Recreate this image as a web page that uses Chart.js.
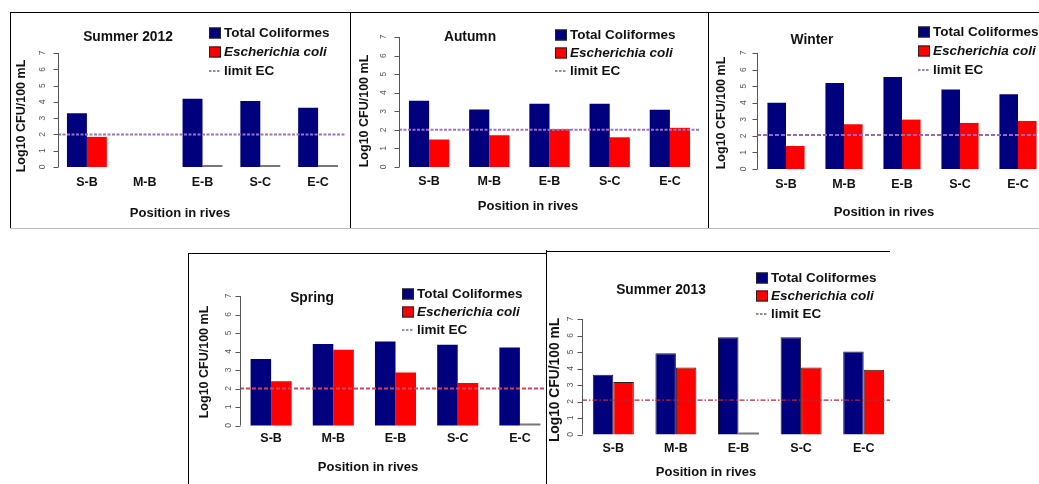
<!DOCTYPE html>
<html>
<head>
<meta charset="utf-8">
<script src="https://cdn.jsdelivr.net/npm/chart.js@4.4.0/dist/chart.umd.min.js"></script>
<style>
  body { margin: 0; width: 1039px; height: 484px; overflow: hidden; background: #fff; position: relative; }
  canvas { position: absolute; }
  .ln { position: absolute; background: #000; }
</style>
</head>
<body>
<div class="ln" style="left:10px;top:12px;width:1029px;height:1px"></div>
<div class="ln" style="left:10px;top:228px;width:1029px;height:1px;background:#bbb"></div>
<div class="ln" style="left:10px;top:12px;width:1px;height:216px"></div>
<div class="ln" style="left:350px;top:12px;width:1px;height:216px"></div>
<div class="ln" style="left:708px;top:12px;width:1px;height:216px"></div>
<div class="ln" style="left:188px;top:253px;width:358px;height:1px"></div>
<div class="ln" style="left:188px;top:253px;width:1px;height:231px"></div>
<div class="ln" style="left:546px;top:250px;width:1px;height:234px"></div>
<div class="ln" style="left:546px;top:251px;width:344px;height:1px"></div>

<canvas id="p1"></canvas>
<canvas id="p2"></canvas>
<canvas id="p3"></canvas>
<canvas id="p4"></canvas>
<canvas id="p5"></canvas>

<script>
// data
const positions = ['S-B', 'M-B', 'E-B', 'S-C', 'E-C'];
const seasons = ['Summer 2012', 'Autumn', 'Winter', 'Spring', 'Summer 2013'];
const yTicks = [0, 1, 2, 3, 4, 5, 6, 7];

const tcSummer2012 = [3.3, null, 4.19, 4.05, 3.64];
const ecSummer2012 = [1.85, null, 0, 0, 0];
const tcAutumn = [3.57, 3.1, 3.4, 3.4, 3.08];
const ecAutumn = [1.48, 1.71, 2.04, 1.6, 2.11];
const tcWinter = [4.0, 5.19, 5.55, 4.79, 4.51];
const ecWinter = [1.39, 2.7, 2.98, 2.78, 2.9];
const tcSpring = [3.6, 4.4, 4.54, 4.36, 4.22];
const ecSpring = [2.39, 4.09, 2.87, 2.3, 0];
const tcSummer2013 = [3.62, 4.93, 5.9, 5.9, 5.03];
const ecSummer2013 = [3.18, 4.06, 0, 4.06, 3.92];
const limitEC = [2, 2, 2.05, 2, 2.08];

const FONT = '"Liberation Sans", Arial, sans-serif';
const NAVY = '#00007f';
const RED = '#ff0000';

// layout per panel (global page coordinates)
const panels = [
  { id: 'p1', title: seasons[0], tc: tcSummer2012, ec: ecSummer2012, limit: limitEC[0],
    canvas: [10, 12, 340, 216], area: [58, 53, 347, 167], titleXY: [128, 37],
    legendXY: [209, 33], legendGap: 19, tickDx: -15, yTitleXY: [22, 116], yTitleSize: 12.5,
    xTitleXY: [180, 213], catPad: 8.5, limitTo: 345, limitColor: '#a070c0', limitDash: [3, 1.5],
    limitWidth: 2, catPct: 0.69, bw: 0, legendLine: '#7a5a9a' },
  { id: 'p2', title: seasons[1], tc: tcAutumn, ec: ecAutumn, limit: limitEC[1],
    canvas: [350, 12, 358, 216], area: [399, 37, 700, 167], titleXY: [470, 37],
    legendXY: [555, 35], legendGap: 18, tickDx: -15, yTitleXY: [365, 111], yTitleSize: 12.5,
    xTitleXY: [528, 206], catPad: 7.5, limitTo: 700, limitColor: '#a070c0', limitDash: [3, 1.5],
    limitWidth: 2, catPct: 0.67, bw: 0, legendLine: '#7a5a9a' },
  { id: 'p3', title: seasons[2], tc: tcWinter, ec: ecWinter, limit: limitEC[2],
    canvas: [708, 12, 342, 216], area: [757, 53, 1047, 169], titleXY: [812, 40],
    legendXY: [918, 32], legendGap: 19, tickDx: -13, yTitleXY: [722, 113], yTitleSize: 12.5,
    xTitleXY: [884, 212], catPad: 8.5, limitTo: 1039, limitColor: '#9a68b8', limitDash: [4, 2],
    limitWidth: 2, catPct: 0.64, bw: 0, legendLine: '#7a5a9a' },
  { id: 'p4', title: seasons[3], tc: tcSpring, ec: ecSpring, limit: limitEC[3],
    canvas: [188, 253, 366, 231], area: [240, 296, 551, 425.5], titleXY: [312, 298],
    legendXY: [402, 294], legendGap: 18, tickDx: -11, yTitleXY: [205, 362], yTitleSize: 12.5,
    xTitleXY: [368, 467], catPad: 6, limitTo: 545, limitColor: '#d8405a', limitDash: [4, 2],
    limitWidth: 2, catPct: 0.66, bw: 0, legendLine: '#7a6a90' },
  { id: 'p5', title: seasons[4], tc: tcSummer2013, ec: ecSummer2013, limit: limitEC[4],
    canvas: [545, 251, 355, 233], area: [582, 319, 895, 434.5], titleXY: [661, 290],
    legendXY: [756, 278], legendGap: 18, tickDx: -11, yTitleXY: [555, 380], yTitleSize: 13.8,
    xTitleXY: [706, 472], catPad: 6.5, limitTo: 890, limitColor: '#b02838', limitDash: [5, 2, 1.5, 2],
    limitWidth: 1.3, catPct: 0.655, bw: 1, legendLine: '#6a5aa0' }
];

function makeDecor(p) {
  const ox = p.canvas[0], oy = p.canvas[1];
  return {
    id: 'decor',
    afterDatasetsDraw(chart) {
      const ctx = chart.ctx, y = chart.scales.y, a = chart.chartArea;
      ctx.save();
      // limit line
      const ly = y.getPixelForValue(p.limit);
      ctx.strokeStyle = p.limitColor;
      ctx.lineWidth = p.limitWidth;
      ctx.setLineDash(p.limitDash);
      ctx.beginPath();
      ctx.moveTo(a.left, ly);
      ctx.lineTo(p.limitTo - ox, ly);
      ctx.stroke();
      ctx.setLineDash([]);

      // R style y axis
      const ax = Math.round(a.left) + 0.5;
      ctx.strokeStyle = '#555';
      ctx.lineWidth = 1;
      ctx.beginPath();
      ctx.moveTo(ax, y.getPixelForValue(yTicks[0]));
      ctx.lineTo(ax, y.getPixelForValue(yTicks[yTicks.length - 1]));
      yTicks.forEach(v => {
        const py = Math.round(y.getPixelForValue(v)) + 0.5;
        ctx.moveTo(ax - 5, py);
        ctx.lineTo(ax, py);
      });
      ctx.stroke();
      ctx.fillStyle = '#555';
      ctx.font = '8.5px ' + FONT;
      ctx.textAlign = 'center';
      ctx.textBaseline = 'middle';
      yTicks.forEach(v => {
        ctx.save();
        ctx.translate(a.left + p.tickDx, y.getPixelForValue(v));
        ctx.rotate(-Math.PI / 2);
        ctx.fillText(String(v), 0, 0);
        ctx.restore();
      });

      // y title
      ctx.fillStyle = '#111';
      ctx.font = 'bold ' + p.yTitleSize + 'px ' + FONT;
      ctx.save();
      ctx.translate(p.yTitleXY[0] - ox, p.yTitleXY[1] - oy);
      ctx.rotate(-Math.PI / 2);
      ctx.fillText('Log10 CFU/100 mL', 0, 0);
      ctx.restore();

      // panel title
      ctx.font = 'bold 13.8px ' + FONT;
      ctx.fillText(p.title, p.titleXY[0] - ox, p.titleXY[1] - oy);

      // x title
      ctx.font = 'bold 13px ' + FONT;
      ctx.fillText('Position in rives', p.xTitleXY[0] - ox, p.xTitleXY[1] - oy);

      // legend
      const lx = p.legendXY[0] - ox;
      const ry = p.legendXY[1] - oy;
      ctx.textAlign = 'left';
      chart.data.datasets.forEach((ds, i) => {
        const yy = ry + i * p.legendGap;
        ctx.fillStyle = ds.legendColor;
        ctx.fillRect(lx, yy - 5.5, 12, 11);
        ctx.strokeStyle = '#222';
        ctx.strokeRect(lx + 0.5, yy - 5, 11, 10);
        ctx.fillStyle = '#111';
        ctx.font = (i === 1 ? 'italic bold 13.5px ' : 'bold 13.5px ') + FONT;
        ctx.fillText(ds.label, lx + 15, yy);
      });
      const yy = ry + 2 * p.legendGap;
      ctx.strokeStyle = p.legendLine;
      ctx.lineWidth = 1.5;
      ctx.setLineDash([2.5, 1.5]);
      ctx.beginPath();
      ctx.moveTo(lx, yy);
      ctx.lineTo(lx + 12, yy);
      ctx.stroke();
      ctx.setLineDash([]);
      ctx.fillStyle = '#111';
      ctx.font = 'bold 13.5px ' + FONT;
      ctx.fillText('limit EC', lx + 15, yy);
      ctx.restore();
    }
  };
}

const X_H = 30;

panels.forEach(p => {
  const cv = document.getElementById(p.id);
  const [cx, cy, cw, ch] = p.canvas;
  cv.width = cw; cv.height = ch;
  cv.style.left = cx + 'px'; cv.style.top = cy + 'px';
  cv.style.width = cw + 'px'; cv.style.height = ch + 'px';
  const [al, at, ar, ab] = p.area;

  new Chart(cv.getContext('2d'), {
    type: 'bar',
    data: {
      labels: positions,
      datasets: [
        {
          label: 'Total Coliformes',
          data: p.tc,
          backgroundColor: NAVY,
          legendColor: NAVY,
          borderColor: '#222',
          borderWidth: p.bw,
          borderSkipped: 'bottom',
          categoryPercentage: p.catPct,
          barPercentage: 1,
          minBarLength: 2,
          clip: 4
        },
        {
          label: 'Escherichia coli',
          data: p.ec,
          backgroundColor: c => c.raw === 0 ? '#777' : RED,
          legendColor: RED,
          borderColor: '#222',
          borderWidth: c => c.raw === 0 ? 0 : p.bw,
          borderSkipped: 'bottom',
          categoryPercentage: p.catPct,
          barPercentage: 1,
          minBarLength: 2,
          clip: 4
        }
      ]
    },
    options: {
      responsive: false,
      animation: false,
      devicePixelRatio: 1,
      layout: {
        padding: {
          left: al - cx,
          top: at - cy,
          right: cx + cw - ar,
          bottom: cy + ch - ab - X_H
        }
      },
      plugins: {
        legend: { display: false },
        tooltip: { enabled: false }
      },
      scales: {
        x: {
          grid: { display: false, drawTicks: false },
          border: { display: false },
          ticks: {
            color: '#111',
            padding: p.catPad,
            font: { family: FONT, size: 12.5, weight: 'bold' }
          },
          afterFit: s => { s.height = X_H; }
        },
        y: {
          display: false,
          min: 0,
          max: 7
        }
      }
    },
    plugins: [makeDecor(p)]
  });
});
</script>
</body>
</html>
